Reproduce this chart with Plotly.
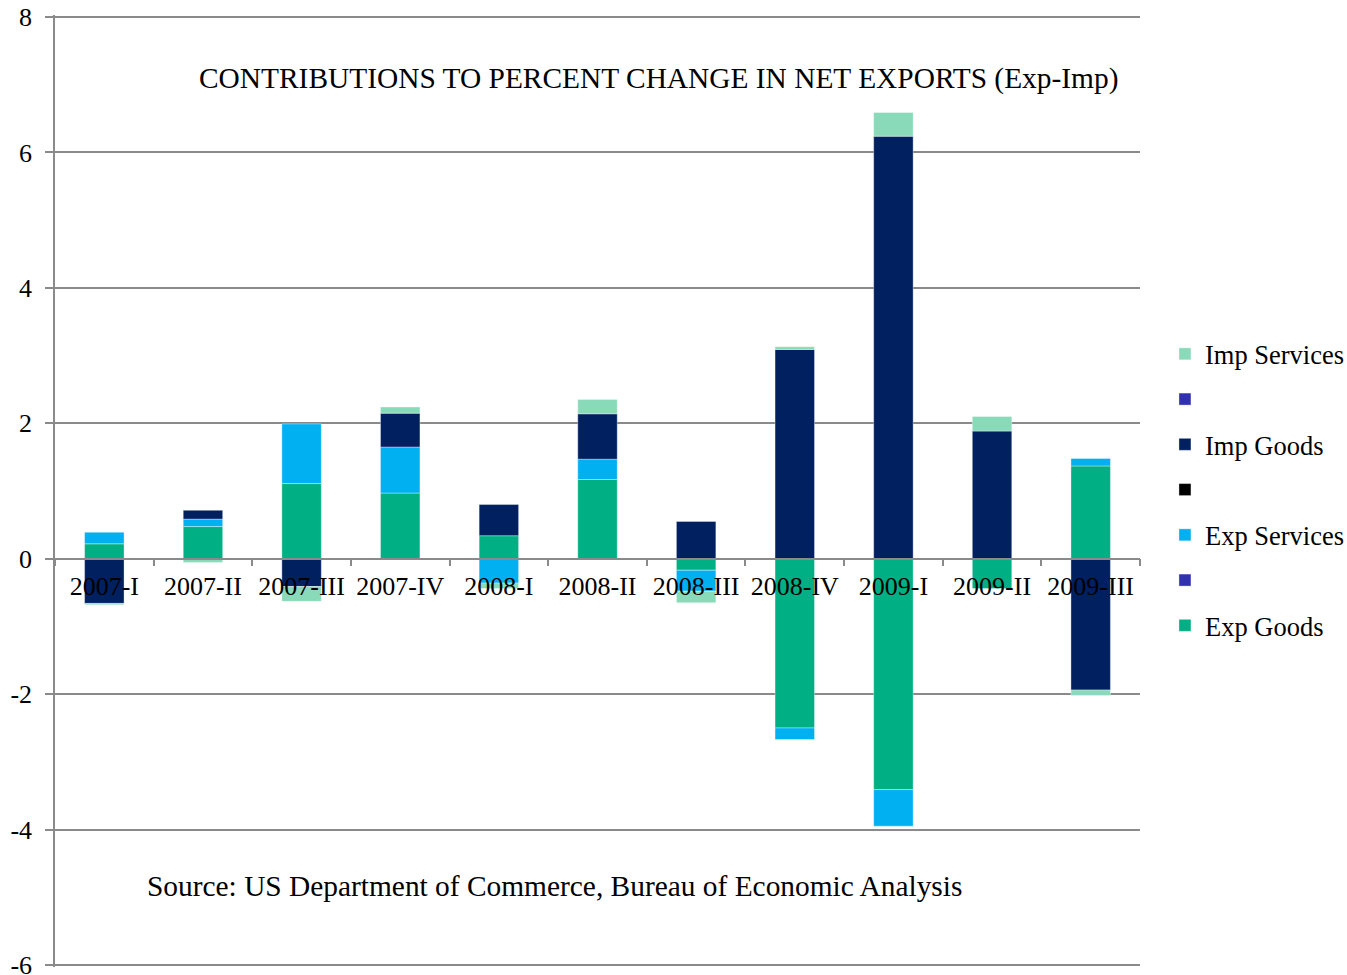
import plotly.graph_objects as go

quarters = ["2007-I", "2007-II", "2007-III", "2007-IV", "2008-I", "2008-II",
            "2008-III", "2008-IV", "2009-I", "2009-II", "2009-III"]

# Contributions (percentage points) by component
exp_goods    = [0.22, 0.475, 1.11, 0.97, 0.34, 1.17, -0.17, -2.50, -3.41, -0.44, 1.37]
exp_services = [0.17, 0.11, 0.88, 0.68, -0.36, 0.30, -0.31, -0.17, -0.54, None, 0.11]
imp_goods    = [-0.66, 0.13, -0.41, 0.50, 0.46, 0.67, 0.55, 3.09, 6.24, 1.885, -1.94]
imp_services = [-0.02, -0.055, -0.22, 0.09, -0.08, 0.21, -0.17, 0.04, 0.35, 0.215, -0.08]
empty_series = [None] * len(quarters)

title_text = "CONTRIBUTIONS TO PERCENT CHANGE IN NET EXPORTS (Exp-Imp)"
source_text = "Source: US Department of Commerce, Bureau of Economic Analysis"
y_ticks = [-6, -4, -2, 0, 2, 4, 6, 8]
y_tick_labels = ["-6", "-4", "-2", "0", "2", "4", "6", "8"]
y_min, y_max = -6.03, 8.03   # small pad so the end gridlines are drawn

FONT = "Liberation Serif, Times New Roman, serif"
GRID = "#8a8a8a"

# stacking order (bottom to top); legend lists them top to bottom
series = [
    ("Exp Goods", exp_goods, "#00B084"),
    (" ", empty_series, "#3030B0"),
    ("Exp Services", exp_services, "#00B0F0"),
    ("  ", empty_series, "#000000"),
    ("Imp Goods", imp_goods, "#002060"),
    ("   ", empty_series, "#3030B0"),
    ("Imp Services", imp_services, "#88DAB8"),
]

fig = go.Figure()
n = len(series)
for i, (name, vals, color) in enumerate(series):
    fig.add_trace(go.Bar(
        x=quarters, y=vals, name=name, legendgroup=f"g{i}", legendrank=n - i,
        marker=dict(color=color, line=dict(color="rgba(255,255,255,0.45)", width=0.8)),
        showlegend=True,
    ))

fig.update_layout(
    barmode="relative",
    bargap=0.6,
    width=1347, height=975,
    margin=dict(l=55, r=207, t=14.5, b=8, autoexpand=False),
    paper_bgcolor="white", plot_bgcolor="white",
    font=dict(family=FONT, size=26, color="black"),
    legend=dict(
        traceorder="grouped", tracegroupgap=7.8,
        x=1.023, xanchor="left", y=0.669, yanchor="top",
        font=dict(family=FONT, size=26.5), itemwidth=30,
    ),
    xaxis=dict(
        anchor="free", position=(0 - y_min) / (y_max - y_min), automargin=False,
        showline=True, linecolor=GRID, linewidth=1.5,
        ticks="outside", tickson="boundaries", ticklen=7, tickwidth=1.5, tickcolor=GRID,
        showgrid=False, tickfont=dict(family=FONT, size=26), ticklabelstandoff=4,
    ),
    yaxis=dict(
        range=[y_min, y_max], tickvals=y_ticks, ticktext=y_tick_labels, domain=[0, 1],
        automargin=False, ticklabeloverflow="allow",
        showgrid=True, gridcolor=GRID, gridwidth=1.5,
        zeroline=False,
        showline=True, linecolor=GRID, linewidth=1.5,
        ticks="outside", ticklen=8, tickwidth=1.5, tickcolor=GRID,
        tickfont=dict(family=FONT, size=26), ticklabelstandoff=8,
    ),
    annotations=[
        dict(text=title_text, xref="paper", yref="paper", x=0.556, y=0.9333,
             xanchor="center", yanchor="middle", showarrow=False,
             font=dict(family=FONT, size=29.4)),
        dict(text=source_text, xref="paper", yref="paper", x=0.083, y=0.085,
             xanchor="left", yanchor="middle", showarrow=False,
             font=dict(family=FONT, size=29.4)),
    ],
)

fig.write_html("out.html")
